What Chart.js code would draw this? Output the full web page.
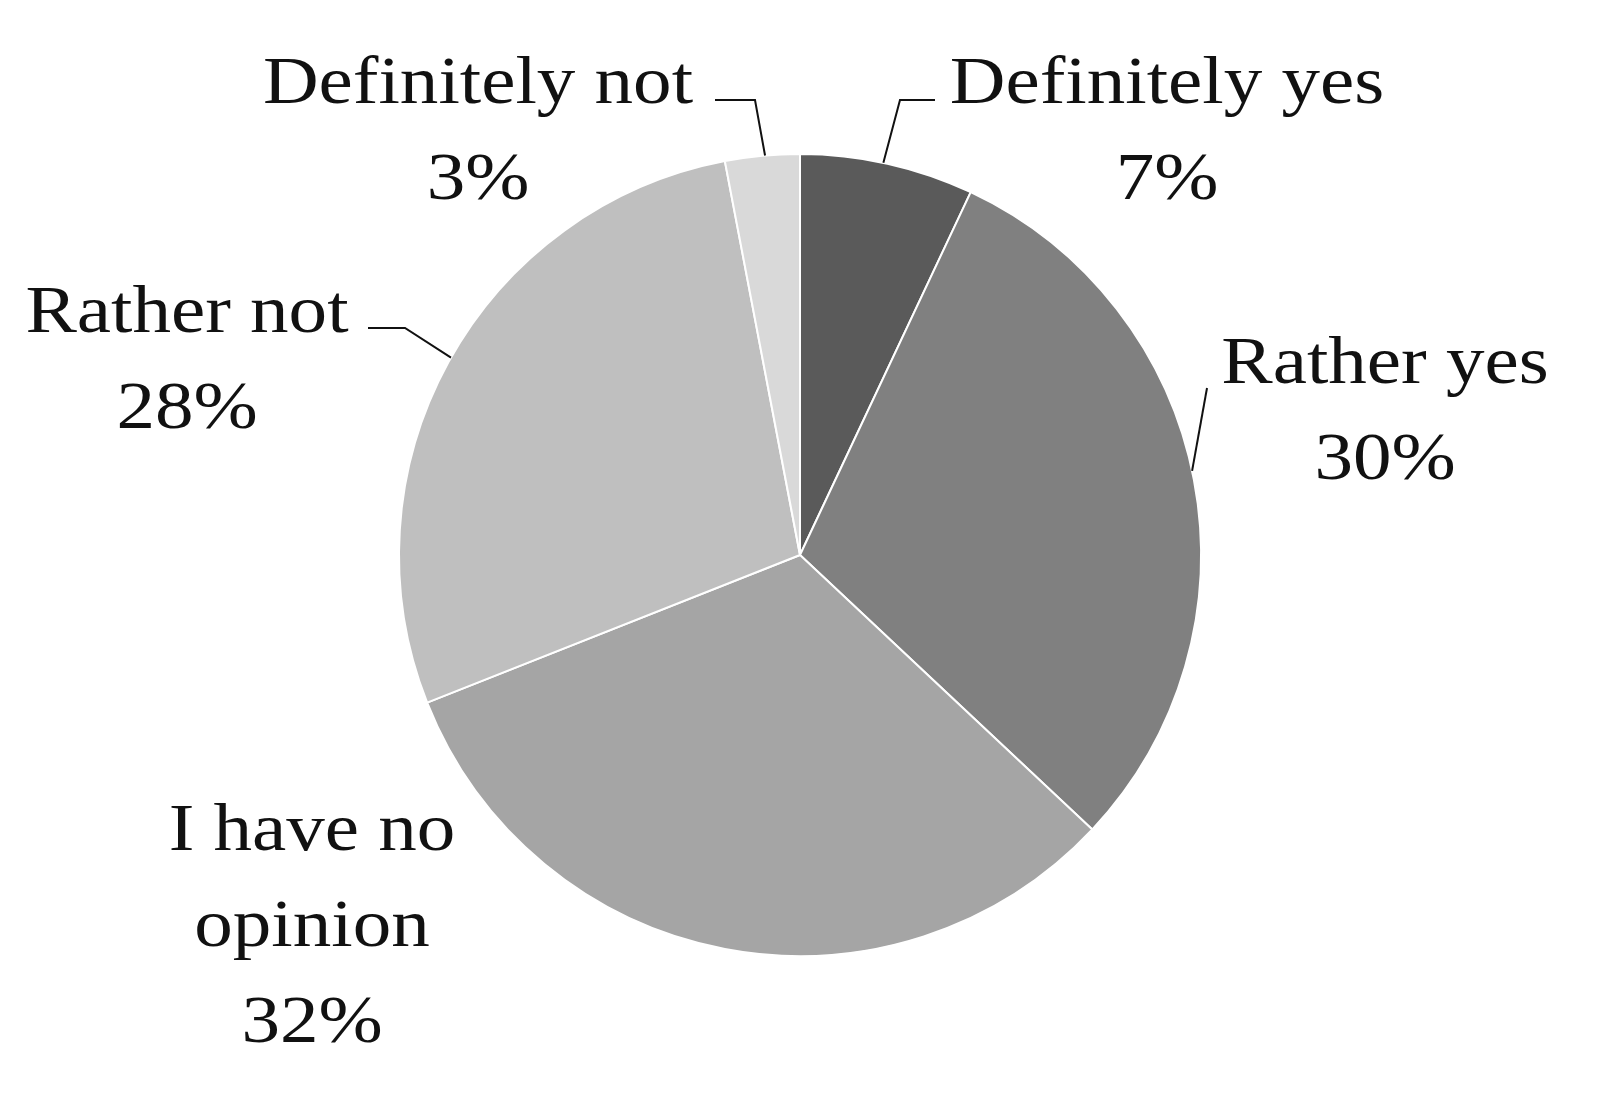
<!DOCTYPE html>
<html>
<head>
<meta charset="utf-8">
<script src="https://cdn.jsdelivr.net/npm/chart.js@4"></script>
<style>
  html, body { margin: 0; padding: 0; background: #fff; }
  #wrap { width: 1605px; height: 1101px; position: relative; }
</style>
</head>
<body>
<div id="wrap"><canvas id="myChart"></canvas></div>
<script>
var categories = ['Definitely yes', 'Rather yes', 'I have no opinion', 'Rather not', 'Definitely not'];
var values = [7, 30, 32, 28, 3];
var colors = ['#5a5a5a', '#808080', '#a5a5a5', '#bfbfbf', '#d9d9d9'];

// label text lines, text centre x, first baseline y, leader (angle in deg from top, elbow, end)
var labelLines = [
  ['Definitely yes', '7%'],
  ['Rather yes', '30%'],
  ['I have no', 'opinion', '32%'],
  ['Rather not', '28%'],
  ['Definitely not', '3%']
];
var labelPos = [[1167, 103], [1385, 383], [312, 850], [187, 332], [478, 103]];
var leaders = [
  { angle: 12, pts: [[900, 100], [935, 100]] },
  { angle: 77.9, pts: [[1207, 388]] },
  null,
  { angle: 299.5, pts: [[405, 328], [368, 328]] },
  { angle: 355, pts: [[755, 100], [715, 100]] }
];

var pieLabels = {
  id: 'pieLabels',
  afterDraw: function(chart) {
    var ctx = chart.ctx;
    var arc = chart.getDatasetMeta(0).data[0];
    var cx = arc.x, cy = arc.y, r = arc.outerRadius;
    ctx.save();
    ctx.fillStyle = '#111';
    ctx.strokeStyle = '#111';
    ctx.lineWidth = 2;
    ctx.font = '67px "Liberation Serif", serif';
    ctx.textAlign = 'center';
    ctx.textBaseline = 'alphabetic';
    labelLines.forEach(function(lines, i) {
      lines.forEach(function(t, j) {
        // stretch a bit, the original font is wider
        ctx.save();
        ctx.translate(labelPos[i][0], labelPos[i][1] + j * 96);
        ctx.scale(1.15, 1);
        ctx.fillText(t, 0, 0);
        ctx.restore();
      });
      var l = leaders[i];
      if (l) {
        var a = l.angle * Math.PI / 180;
        ctx.beginPath();
        ctx.moveTo(cx + r * Math.sin(a), cy - r * Math.cos(a));
        l.pts.forEach(function(p) { ctx.lineTo(p[0], p[1]); });
        ctx.stroke();
      }
    });
    ctx.restore();
  }
};

var ctx = document.getElementById('myChart').getContext('2d');
var chart = new Chart(ctx, {
  type: 'pie',
  data: {
    labels: categories,
    datasets: [{
      data: values,
      backgroundColor: colors,
      borderColor: '#ffffff',
      borderWidth: 2
    }]
  },
  options: {
    responsive: true,
    maintainAspectRatio: false,
    animation: false,
    layout: { padding: { left: 398, right: 403, top: 153, bottom: 144 } },
    plugins: { legend: { display: false }, tooltip: { enabled: false } }
  },
  plugins: [pieLabels]
});
</script>
</body>
</html>
